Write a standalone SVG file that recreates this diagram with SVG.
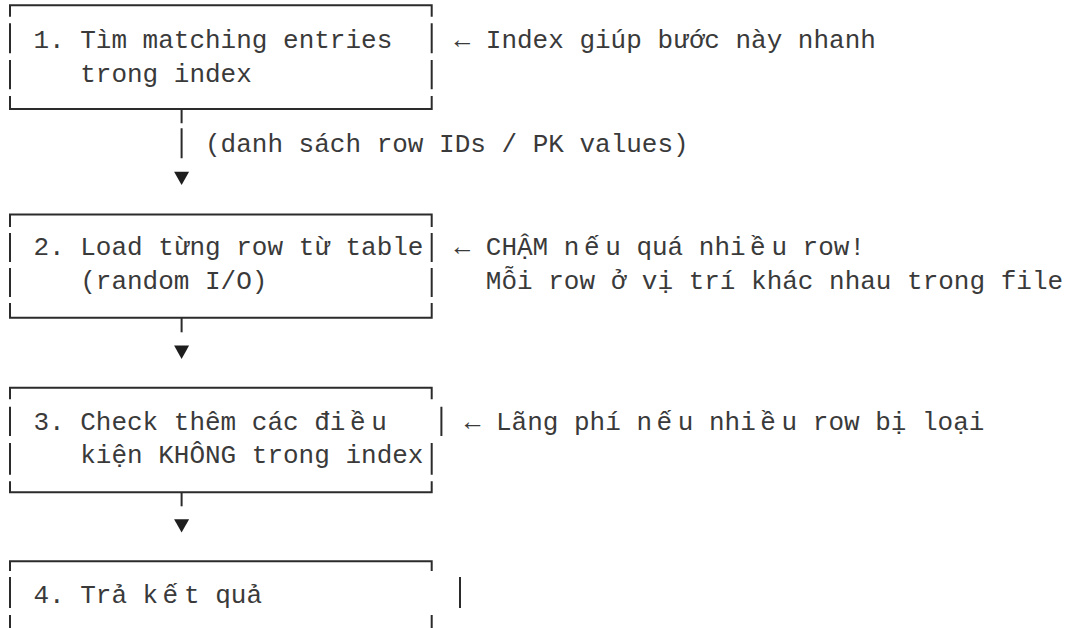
<svg xmlns="http://www.w3.org/2000/svg" width="1067" height="628" viewBox="0 0 1067 628">
<style>
.bg{fill:#ffffff}
.t{font-family:"Liberation Mono","DejaVu Sans Mono",monospace;font-size:26px;fill:#3a3a3a}
.ln{fill:none;stroke:#2b2b2b;stroke-width:2;stroke-linejoin:miter}
.ah{fill:#1e1e1e}
</style>
<rect class="bg" x="0" y="0" width="1067" height="628"/>

<g id="connectors">
  <path class="ln" d="M181.6 109 V123.3 M181.6 128.3 V158.3"/>
  <polygon class="ah" points="174.1,171.7 189.1,171.7 181.6,185"/>
  <text class="t" x="205" y="152">(danh sách row IDs / PK values)</text>
  <path class="ln" d="M181.6 317.7 V332.3"/>
  <polygon class="ah" points="174.1,345.5 189.1,345.5 181.6,359"/>
  <path class="ln" d="M181.6 492.3 V506.3"/>
  <polygon class="ah" points="174.1,519.3 189.1,519.3 181.6,532.6"/>
</g>

<g id="node1">
  <path class="ln" d="M10 16.7 V5.3 H431.7 V16.7 M10 23.3 V53.3 M10 60 V89.3 M10 96 V109 H431.7 V96 M431.7 23.3 V53.3 M431.7 60 V89.3"/>
  <text class="t" x="33.4" y="48">1. Tìm matching entries</text>
  <text class="t" x="80.2" y="82">trong index</text>
  <text class="t" x="454.6" y="48">←</text>
  <text class="t" x="485.8" y="48">Index giúp bước này nhanh</text>
</g>

<g id="node2">
  <path class="ln" d="M10 227 V214.5 H431.7 V227 M10 233 V262 M10 268 V297 M10 303 V317.7 H431.7 V303 M431.7 233 V262 M431.7 268 V297"/>
  <text class="t" x="33.4" y="255">2. Load từng row từ table</text>
  <text class="t" x="80.2" y="289">(random I/O)</text>
  <text class="t" x="454.6" y="255">←</text>
  <text class="t" y="255"><tspan x="485.8">CHẬM n</tspan><tspan x="584">ế</tspan><tspan x="605.2">u quá nhi</tspan><tspan x="750">ề</tspan><tspan x="771.4">u row!</tspan></text>
  <text class="t" x="485.8" y="289">Mỗi row ở vị trí khác nhau trong file</text>
</g>

<g id="node3">
  <path class="ln" d="M10 399.3 V387.7 H431.7 V399.3 M10 406.7 V436 M10 443 V474.7 M10 481.3 V492.3 H431.7 V481.3 M441.4 406.7 V436 M431.7 443 V474.7"/>
  <text class="t" y="430"><tspan x="33.4">3. Check thêm các đi</tspan><tspan x="350">ề</tspan><tspan x="371.2">u</tspan></text>
  <text class="t" x="80.2" y="463">kiện KHÔNG trong index</text>
  <text class="t" x="464.8" y="430">←</text>
  <text class="t" y="430"><tspan x="496">Lãng phí n</tspan><tspan x="656.5">ế</tspan><tspan x="677.8">u nhi</tspan><tspan x="760.3">ề</tspan><tspan x="781.6">u row bị loại</tspan></text>
</g>

<g id="node4">
  <path class="ln" d="M10 571 V561.3 H431.7 V571 M10 577 V608 M10 615 V630 M460 577 V608 M431.7 615 V630"/>
  <text class="t" y="603"><tspan x="33.4">4. Trả k</tspan><tspan x="162.6">ế</tspan><tspan x="184">t quả</tspan></text>
</g>
</svg>
